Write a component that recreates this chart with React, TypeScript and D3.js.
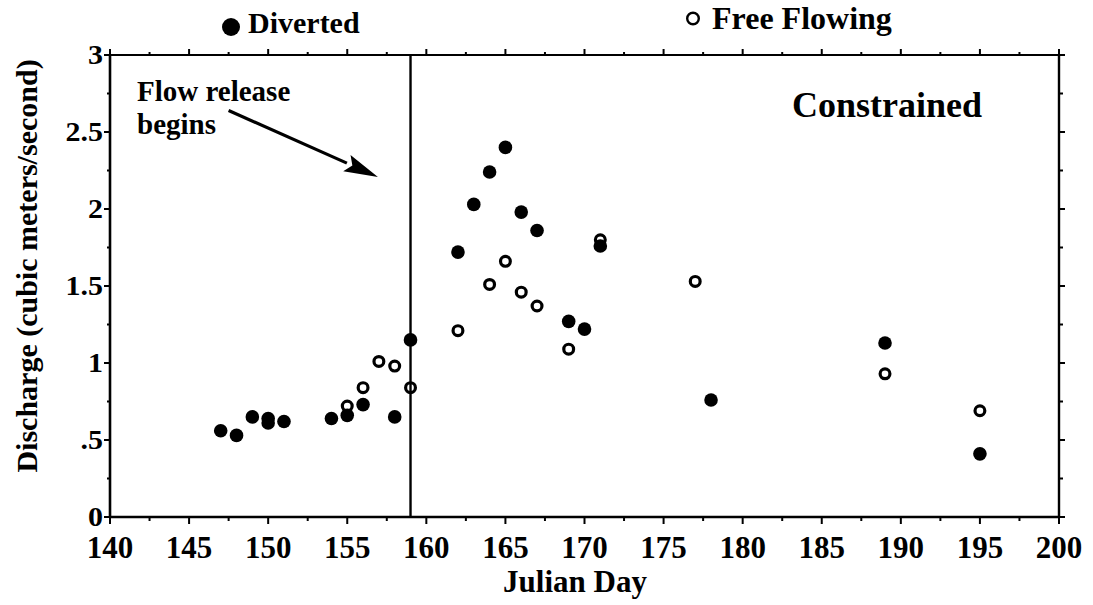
import React from "react";
import * as d3 from "d3";

// ---- data (Julian day, discharge m^3/s) ----
const divertedDay = [147, 148, 149, 150, 150, 151, 154, 155, 156, 158, 159, 162, 163, 164, 165, 166, 167, 169, 170, 171, 178, 189, 195];
const divertedQ = [0.56, 0.53, 0.65, 0.64, 0.61, 0.62, 0.64, 0.66, 0.73, 0.65, 1.15, 1.72, 2.03, 2.24, 2.4, 1.98, 1.86, 1.27, 1.22, 1.76, 0.76, 1.13, 0.41];
const freeDay = [155, 156, 157, 158, 159, 162, 164, 165, 166, 167, 169, 171, 177, 189, 195];
const freeQ = [0.72, 0.84, 1.01, 0.98, 0.84, 1.21, 1.51, 1.66, 1.46, 1.37, 1.09, 1.8, 1.53, 0.93, 0.69];

const xTicks = [140, 145, 150, 155, 160, 165, 170, 175, 180, 185, 190, 195, 200];
const yTicks = [0, 0.5, 1, 1.5, 2, 2.5, 3];
const yTickLabels = ["0", ".5", "1", "1.5", "2", "2.5", "3"];
const releaseDay = 159;

const FONT = "'Liberation Serif', 'Times New Roman', Times, serif";

export default function App() {
  const W = 1093, H = 605;
  const left = 110, right = 1059, top = 55, bottom = 517;
  const x = d3.scaleLinear().domain([140, 200]).range([left, right]);
  const y = d3.scaleLinear().domain([0, 3]).range([bottom, top]);

  const xMinor = d3.range(140, 200.01, 2.5).filter((v) => v % 5 !== 0);
  const yMinor = d3.range(0, 3.001, 0.25).filter((v) => Math.abs(v * 2 - Math.round(v * 2)) > 1e-6);

  // arrow annotation in data space
  const ax0 = x(147.5), ay0 = y(2.64);
  const ax1 = x(156.94), ay1 = y(2.208);
  const ang = Math.atan2(ay1 - ay0, ax1 - ax0);
  const hl = 34, hw = 9;
  const bx = ax1 - hl * Math.cos(ang), by = ay1 - hl * Math.sin(ang);
  const head = [
    [ax1, ay1],
    [bx + hw * Math.sin(ang), by - hw * Math.cos(ang)],
    [bx + 6 * Math.cos(ang), by + 6 * Math.sin(ang)],
    [bx - hw * Math.sin(ang), by + hw * Math.cos(ang)],
  ];

  return (
    <svg width={W} height={H} style={{ position: "absolute", left: 0, top: 0, background: "#fff" }} fontFamily={FONT}>
      <rect x={0} y={0} width={W} height={H} fill="#fff" />
      {/* frame */}
      <line x1={left} y1={bottom} x2={right} y2={bottom} stroke="#000" strokeWidth={2.6} />
      <line x1={left} y1={top} x2={left} y2={bottom} stroke="#000" strokeWidth={2.6} />
      <line x1={left} y1={top} x2={right} y2={top} stroke="#000" strokeWidth={2.2} />
      <line x1={right} y1={top} x2={right} y2={bottom} stroke="#000" strokeWidth={2.4} />

      {/* x ticks */}
      {xTicks.map((t) => (
        <g key={"xt" + t}>
          <line x1={x(t)} x2={x(t)} y1={bottom} y2={bottom + 7} stroke="#000" strokeWidth={2} />
          <line x1={x(t)} x2={x(t)} y1={top} y2={top - 6} stroke="#000" strokeWidth={2} />
          <text x={x(t)} y={558} textAnchor="middle" fontSize={31} fontWeight="bold">{t}</text>
        </g>
      ))}
      {xMinor.map((t) => (
        <g key={"xm" + t}>
          <line x1={x(t)} x2={x(t)} y1={bottom} y2={bottom + 4} stroke="#000" strokeWidth={2} />
          <line x1={x(t)} x2={x(t)} y1={top} y2={top - 3} stroke="#000" strokeWidth={2} />
        </g>
      ))}
      {/* y ticks */}
      {yTicks.map((t, i) => (
        <g key={"yt" + t}>
          <line x1={left} x2={left - 6} y1={y(t)} y2={y(t)} stroke="#000" strokeWidth={2} />
          <line x1={right} x2={right + 6} y1={y(t)} y2={y(t)} stroke="#000" strokeWidth={2} />
          <g transform={`translate(${left - 7},${y(t)}) scale(1,0.9)`}>
            <text x={0} y={0} textAnchor="end" dominantBaseline="central" fontSize={30} fontWeight="bold">{yTickLabels[i]}</text>
          </g>
        </g>
      ))}
      {yMinor.map((t) => (
        <g key={"ym" + t}>
          <line x1={left} x2={left - 3} y1={y(t)} y2={y(t)} stroke="#000" strokeWidth={2} />
          <line x1={right} x2={right + 4} y1={y(t)} y2={y(t)} stroke="#000" strokeWidth={2} />
        </g>
      ))}

      {/* flow release line */}
      <line x1={x(releaseDay)} x2={x(releaseDay)} y1={top} y2={bottom} stroke="#000" strokeWidth={2.4} />

      {/* points */}
      {freeDay.map((d, i) => (
        <circle key={"f" + i} cx={x(d)} cy={y(freeQ[i])} r={4.9} fill="none" stroke="#000" strokeWidth={3.2} />
      ))}
      {divertedDay.map((d, i) => (
        <circle key={"d" + i} cx={x(d)} cy={y(divertedQ[i])} r={6.8} fill="#000" />
      ))}

      {/* annotation */}
      <text x={137} y={101} fontSize={29} fontWeight="bold">Flow release</text>
      <text x={137} y={134} fontSize={29} fontWeight="bold">begins</text>
      <line x1={ax0} y1={ay0} x2={bx} y2={by} stroke="#000" strokeWidth={3.2} />
      <polygon points={head.map((p) => p.join(",")).join(" ")} fill="#000" />
      <text x={792} y={117} fontSize={36} fontWeight="bold">Constrained</text>

      {/* legend */}
      <circle cx={231} cy={27} r={9} fill="#000" />
      <text x={248} y={33} fontSize={30} fontWeight="bold">Diverted</text>
      <circle cx={693} cy={18.5} r={5.8} fill="none" stroke="#000" strokeWidth={2.4} />
      <text x={712} y={29} fontSize={32} fontWeight="bold">Free Flowing</text>

      {/* axis titles */}
      <text x={575} y={592} textAnchor="middle" fontSize={31} fontWeight="bold">Julian Day</text>
      <text transform="translate(37,266) rotate(-90)" textAnchor="middle" fontSize={30} fontWeight="bold">
        Discharge (cubic meters/second)
      </text>
    </svg>
  );
}
